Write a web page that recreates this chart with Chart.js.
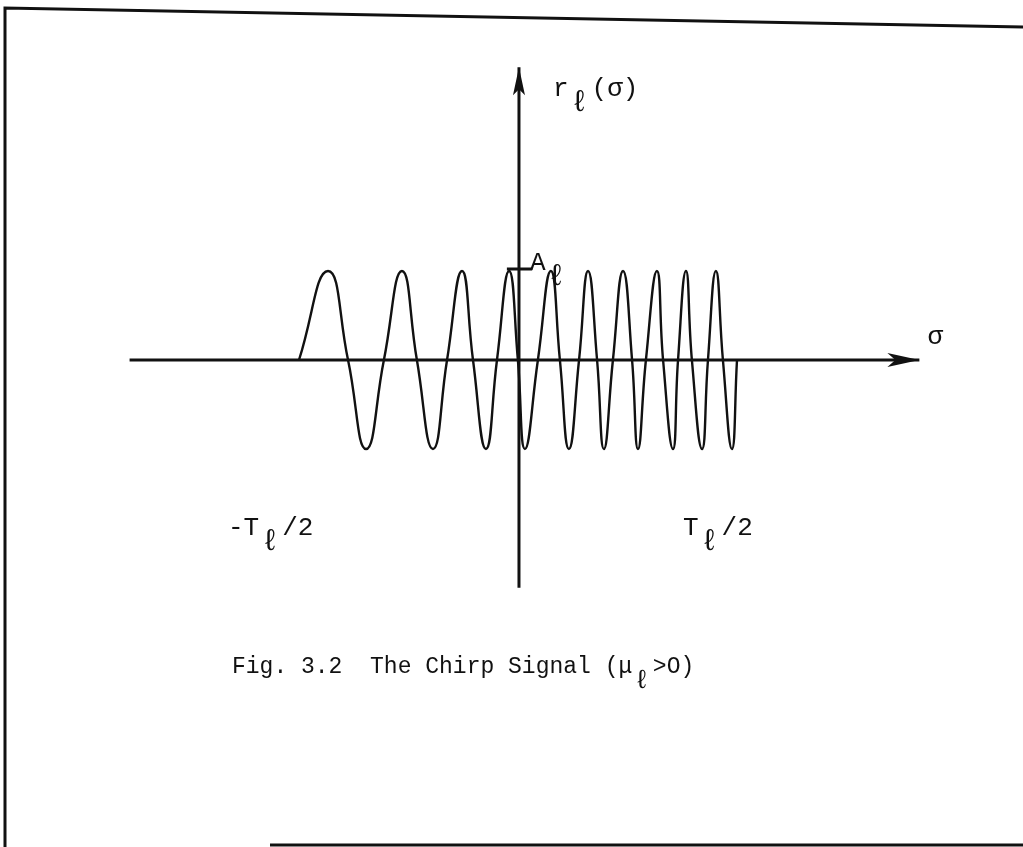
<!DOCTYPE html>
<html>
<head>
<meta charset="utf-8">
<title>The Chirp Signal</title>
<script src="https://cdn.jsdelivr.net/npm/chart.js@4/dist/chart.umd.min.js"></script>
<style>
  html, body { margin: 0; padding: 0; background: #fff; }
  canvas { display: block; }
</style>
</head>
<body>
<canvas id="chirpChart" width="1023" height="847"></canvas>
<script>
// chirp r_l(sigma): start, then peak / zero / trough / zero ... in sigma units (T_l/2 = 10)
const sigma = [-10, -8.68, -7.77, -6.95, -6.14, -5.32, -4.64, -3.91, -3.27, -2.59,
               -2.09, -1.50, -1.00, -0.45, -0.05, 0.27, 0.86, 1.45, 1.86, 2.27,
               2.73, 3.14, 3.55, 3.86, 4.27, 4.73, 5.14, 5.41, 5.77, 6.27,
               6.55, 7.00, 7.23, 7.59, 7.86, 8.32, 8.59, 8.95, 9.27, 9.68, 9.91];
const rValues = [0, 1, 0, -1, 0, 1, 0, -1, 0, 1,
                 0, -1, 0, 1, 0, -1, 0, 1, 0, -1,
                 0, 1, 0, -1, 0, 1, 0, -1, 0, 1,
                 0, -1, 0, 1, 0, -1, 0, 1, 0, -1, 0];

// axis extents
const sigmaAxis = [-17.7, 18.2];
const rAxis = [-2.56, 3.29];
const amplitude = 1;      // A_l
const halfPeriod = 10;    // T_l/2

// label texts, pieces marked sub are set as subscripts
const rLabel = [['r'], ['\u2113', 'sub'], ['(\u03c3)']];
const aLabel = [['A'], ['\u2113', 'sub']];
const sigmaLabel = [['\u03c3']];
const leftTick = [['-T'], ['\u2113', 'sub'], ['/2']];
const rightTick = [['T'], ['\u2113', 'sub'], ['/2']];
const caption = [['Fig. 3.2  The Chirp Signal (\u03bc'], ['\u2113', 'sub'], ['>O)']];

const INK = '#111';
const FONT = 'px "Liberation Mono", "DejaVu Sans Mono", monospace';
const labelSize = 26;
const captionSize = 23;

function toPoints(xs, ys) {
    return xs.map((x, i) => ({ x: x, y: ys[i] }));
}

// typewriter-like lettering; a subscript takes its own cell and sits lower
function drawPieces(ctx, pieces, x, y, size) {
    let cx = x;
    pieces.forEach(p => {
        if (p[1] === 'sub') {
            ctx.font = Math.round(size * 1.15) + FONT;
            let w = ctx.measureText(p[0]).width;
            ctx.fillText(p[0], cx + 2, y + 15);
            cx += w + 5;
        } else {
            ctx.font = size + FONT;
            ctx.fillText(p[0], cx, y);
            cx += ctx.measureText(p[0]).width;
        }
    });
}

const decorations = {
    id: 'decorations',
    afterDatasetsDraw(chart) {
        const ctx = chart.ctx;
        const xs = chart.scales.x;
        const ys = chart.scales.y;
        ctx.save();
        ctx.strokeStyle = INK;
        ctx.fillStyle = INK;

        // page frame
        ctx.lineWidth = 3;
        ctx.beginPath();
        ctx.moveTo(5, 847);
        ctx.lineTo(5, 8);
        ctx.lineTo(1023, 27);
        ctx.stroke();
        ctx.beginPath();
        ctx.moveTo(270, 845);
        ctx.lineTo(1023, 845);
        ctx.stroke();

        // arrow on sigma axis
        let hx = xs.getPixelForValue(sigmaAxis[1]);
        let hy = ys.getPixelForValue(0);
        ctx.beginPath();
        ctx.moveTo(hx, hy);
        ctx.lineTo(hx - 32, hy - 7);
        ctx.lineTo(hx - 24, hy);
        ctx.lineTo(hx - 32, hy + 7);
        ctx.closePath();
        ctx.fill();

        // arrow on r axis
        let vx = xs.getPixelForValue(0);
        let vy = ys.getPixelForValue(rAxis[1]);
        ctx.beginPath();
        ctx.moveTo(vx, vy);
        ctx.lineTo(vx - 6, vy + 28);
        ctx.lineTo(vx, vy + 22);
        ctx.lineTo(vx + 6, vy + 28);
        ctx.closePath();
        ctx.fill();

        // A_l tick
        let ay = ys.getPixelForValue(amplitude);
        ctx.lineWidth = 3;
        ctx.beginPath();
        ctx.moveTo(xs.getPixelForValue(-0.55), ay - 2);
        ctx.lineTo(xs.getPixelForValue(0.6), ay - 2);
        ctx.stroke();

        // labels
        ctx.textBaseline = 'alphabetic';
        drawPieces(ctx, rLabel, vx + 34, vy + 29, labelSize);
        drawPieces(ctx, aLabel, vx + 11, ay - 1, labelSize);
        drawPieces(ctx, sigmaLabel, hx + 8, hy - 16, labelSize);
        drawPieces(ctx, leftTick, xs.getPixelForValue(-halfPeriod) - 71, 535, labelSize);
        drawPieces(ctx, rightTick, xs.getPixelForValue(halfPeriod) - 56, 535, labelSize);
        drawPieces(ctx, caption, 232, 673, captionSize);
        ctx.restore();
    }
};

new Chart(document.getElementById('chirpChart'), {
    type: 'line',
    data: {
        datasets: [{
            label: 'sigma axis',
            data: toPoints(sigmaAxis, [0, 0]),
            borderColor: INK,
            borderWidth: 3,
            pointRadius: 0
        }, {
            label: 'r axis',
            data: toPoints([0, 0], rAxis),
            borderColor: INK,
            borderWidth: 3,
            pointRadius: 0
        }, {
            label: 'r_l(sigma)',
            data: toPoints(sigma, rValues),
            borderColor: INK,
            borderWidth: 2.4,
            pointRadius: 0,
            tension: 0.5
        }]
    },
    options: {
        responsive: false,
        animation: false,
        layout: { padding: 0 },
        scales: {
            x: { type: 'linear', display: false, min: -23.59, max: 22.91 },
            y: { type: 'linear', display: false, min: -5.472, max: 4.045 }
        },
        plugins: {
            legend: { display: false },
            tooltip: { enabled: false }
        }
    },
    plugins: [decorations]
});
</script>
</body>
</html>
